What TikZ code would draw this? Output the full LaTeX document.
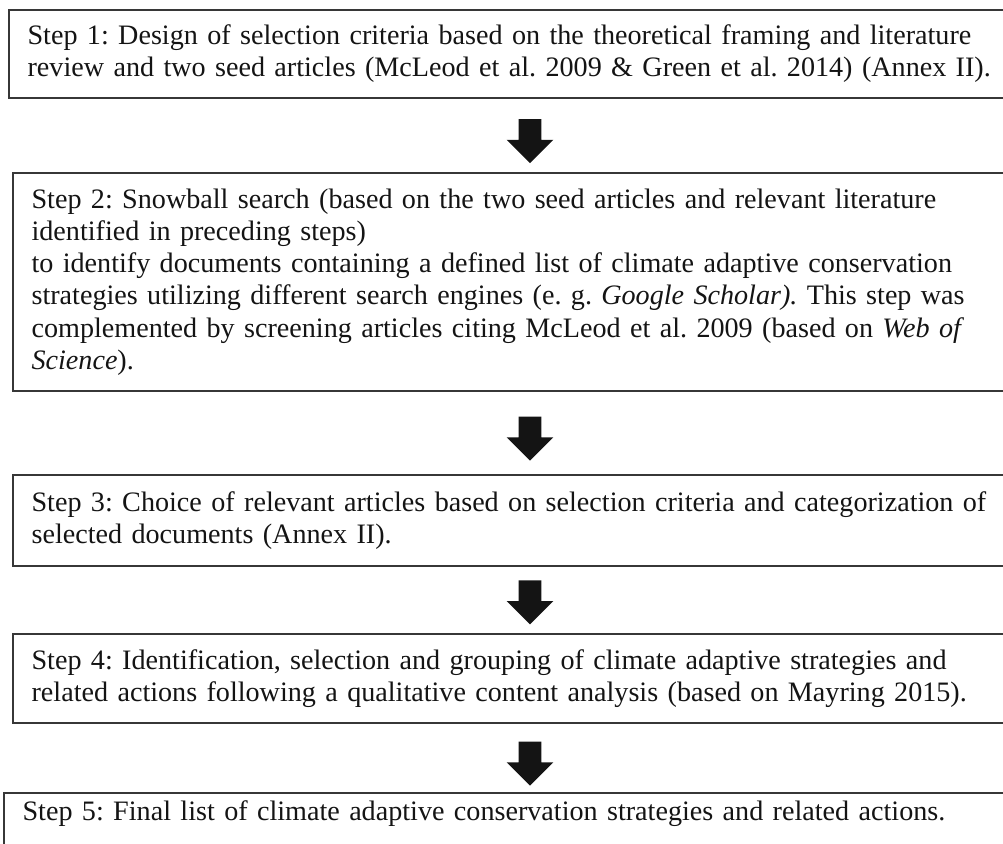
\documentclass[tikz,border=0pt]{standalone}
\usepackage{fontspec}
\setmainfont{Liberation Serif}
\usetikzlibrary{calc,shapes.arrows}

\definecolor{boxline}{RGB}{55,55,55}
\definecolor{inktext}{RGB}{20,20,20}

\tikzset{
  stepbox/.style={draw=boxline, line width=1.4pt, anchor=north west,
    align=left, text width=735pt, inner xsep=14pt, inner ysep=0pt,
    text=inktext, font=\fontsize{21.1}{24.2}\selectfont\frenchspacing},
  blockarr/.style={single arrow, fill=black!92, draw=none, rotate=-90,
    minimum height=33pt, minimum width=0pt, inner xsep=0pt, inner ysep=8.25pt,
    single arrow head extend=9pt, single arrow head indent=0pt}
}

\begin{document}
\begin{tikzpicture}[x=0.75pt, y=-0.75pt]
  \useasboundingbox (0,0) rectangle (1003,843);
  \clip (0,0) rectangle (1003,843);
  \fill[white] (0,0) rectangle (1003,843);

  \coordinate (ax) at (530,0);

  \node[stepbox, minimum height=66pt] (b1) at (8,9)
    {Step 1: Design of selection criteria based on the theoretical framing and literature\\
     review and two seed articles (McLeod et al. 2009 \& Green et al. 2014) (Annex II).};

  \node[stepbox, minimum height=163.5pt] (b2) at (12,172)
    {Step 2: Snowball search (based on the two seed articles and relevant literature\\
     identified in preceding steps)\\
     to identify documents containing a defined list of climate adaptive conservation\\
     strategies utilizing different search engines (e. g. \textit{Google Scholar).} This step was\\
     complemented by screening articles citing McLeod et al. 2009 (based on \textit{Web of}\\
     \textit{Science}).};

  \node[stepbox, minimum height=68.25pt] (b3) at (12,474)
    {Step 3: Choice of relevant articles based on selection criteria and categorization of\\
     selected documents (Annex II).};

  \node[stepbox, minimum height=66.75pt] (b4) at (12,633)
    {Step 4: Identification, selection and grouping of climate adaptive strategies and\\
     related actions following a qualitative content analysis (based on Mayring 2015).};

  \node[stepbox, inner ysep=6pt, text depth=40pt] (b5) at (3,792)
    {Step 5: Final list of climate adaptive conservation strategies and related actions.};

  % block arrows between consecutive steps
  \node[blockarr] (a1) at ($(b1.south -| ax)!0.5!(b2.north -| ax)$) {};
  \node[blockarr] (a2) at ($(b2.south -| ax)!0.5!(b3.north -| ax)$) {};
  \node[blockarr] (a3) at ($(b3.south -| ax)!0.45!(b4.north -| ax)$) {};
  \node[blockarr] (a4) at ($(b4.south -| ax)!0.5!(b5.north -| ax)$) {};
\end{tikzpicture}
\end{document}
